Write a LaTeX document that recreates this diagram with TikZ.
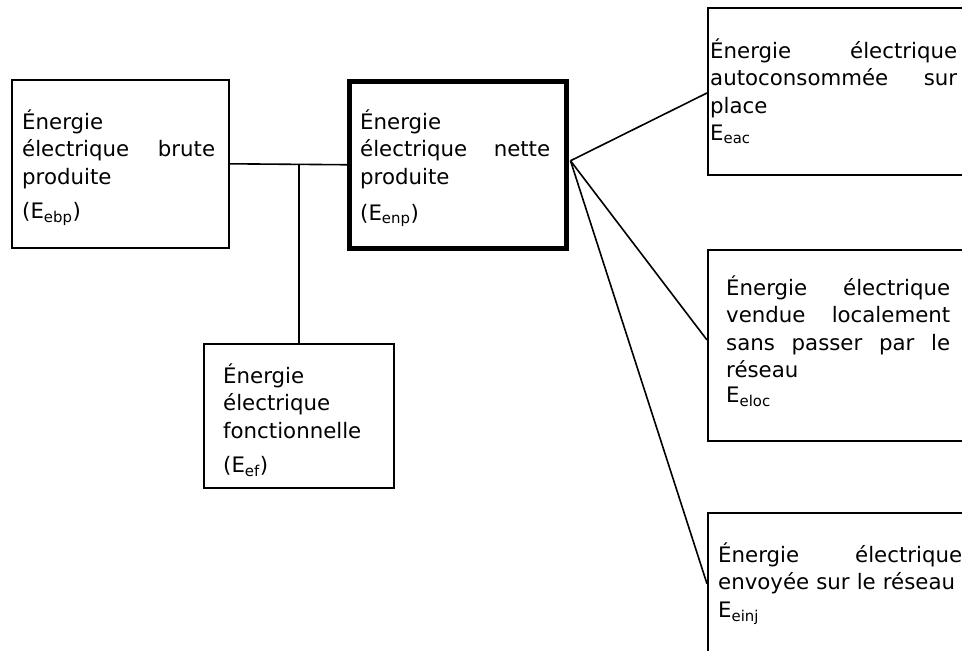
\documentclass[tikz,border=0pt]{standalone}
\usepackage{fontspec}
\setmainfont{DejaVu Sans}
\usetikzlibrary{calc}
\tikzset{
  boite/.style={draw,line width=1.6pt,inner sep=0pt,anchor=north west},
  boitenette/.style={boite,line width=4.5pt},
  texte/.style={inner sep=0pt,anchor=base west,align=left,
    font=\fontsize{21.3}{27.5}\selectfont},
  lien/.style={line width=1.6pt}
}
\newcommand{\boite}[5][boite]{%
  \node[#1,minimum width=#4,minimum height=#5] (#2) at #3 {};}

\begin{document}
\begin{tikzpicture}[x=1pt,y=-1pt]
  \useasboundingbox (0,0) rectangle (962,651);

  % boites
  \boite{ebp}{(11,79)}{217pt}{168pt}
  \boite[boitenette]{enp}{(347,79)}{217pt}{167pt}
  \boite{ef}{(203,343)}{190pt}{144pt}
  \boite{eac}{(707,7)}{300pt}{167pt}
  \boite{eloc}{(707,249)}{300pt}{191pt}
  \boite{einj}{(707,512)}{300pt}{142pt}

  % textes
  \node[texte,text width=193pt] (ebptexte) at (22,129)
    {Énergie\\ électrique\hfill brute\\ produite\\[6.5pt]
     (E\textsubscript{ebp})};
  \node[texte,text width=190pt] (enptexte) at (360,129)
    {Énergie\\ électrique\hfill nette\\ produite\\[8.5pt]
     (E\textsubscript{enp})};
  \node[texte,text width=165pt] (eftexte) at (223,383)
    {Énergie\\ électrique\\ fonctionnelle\\[6.5pt] (E\textsubscript{ef})};
  \node[texte,text width=247pt] (eactexte) at (710,58)
    {Énergie\hfill électrique\\ autoconsommée\hfill sur\\ place\\
     E\textsubscript{eac}};
  \node[texte,text width=224pt] (eloctexte) at (726,295)
    {Énergie\hfill électrique\\ vendue\hfill localement\\
     sans\hfill passer\hfill par\hfill le\\ réseau\\[-3pt]
     E\textsubscript{eloc}};
  \node[texte,text width=244pt] (einjtexte) at (718,562)
    {Énergie\hfill électrique\\ envoyée sur le réseau\\ E\textsubscript{einj}};

  % liaisons
  \coordinate (fourche) at ($(enp.east)+(2,-4)$);
  \begin{scope}[lien]
    \draw (ebp.east) -- (enp.west);
    \draw (ef.north) -- (ef.north |- ebp.east);
    \draw (fourche) -- ($(eac.north west)+(0,86)$);
    \draw (fourche) -- ($(eloc.north west)+(0,91)$);
    \draw (fourche) -- (einj.west);
  \end{scope}
\end{tikzpicture}
\end{document}
